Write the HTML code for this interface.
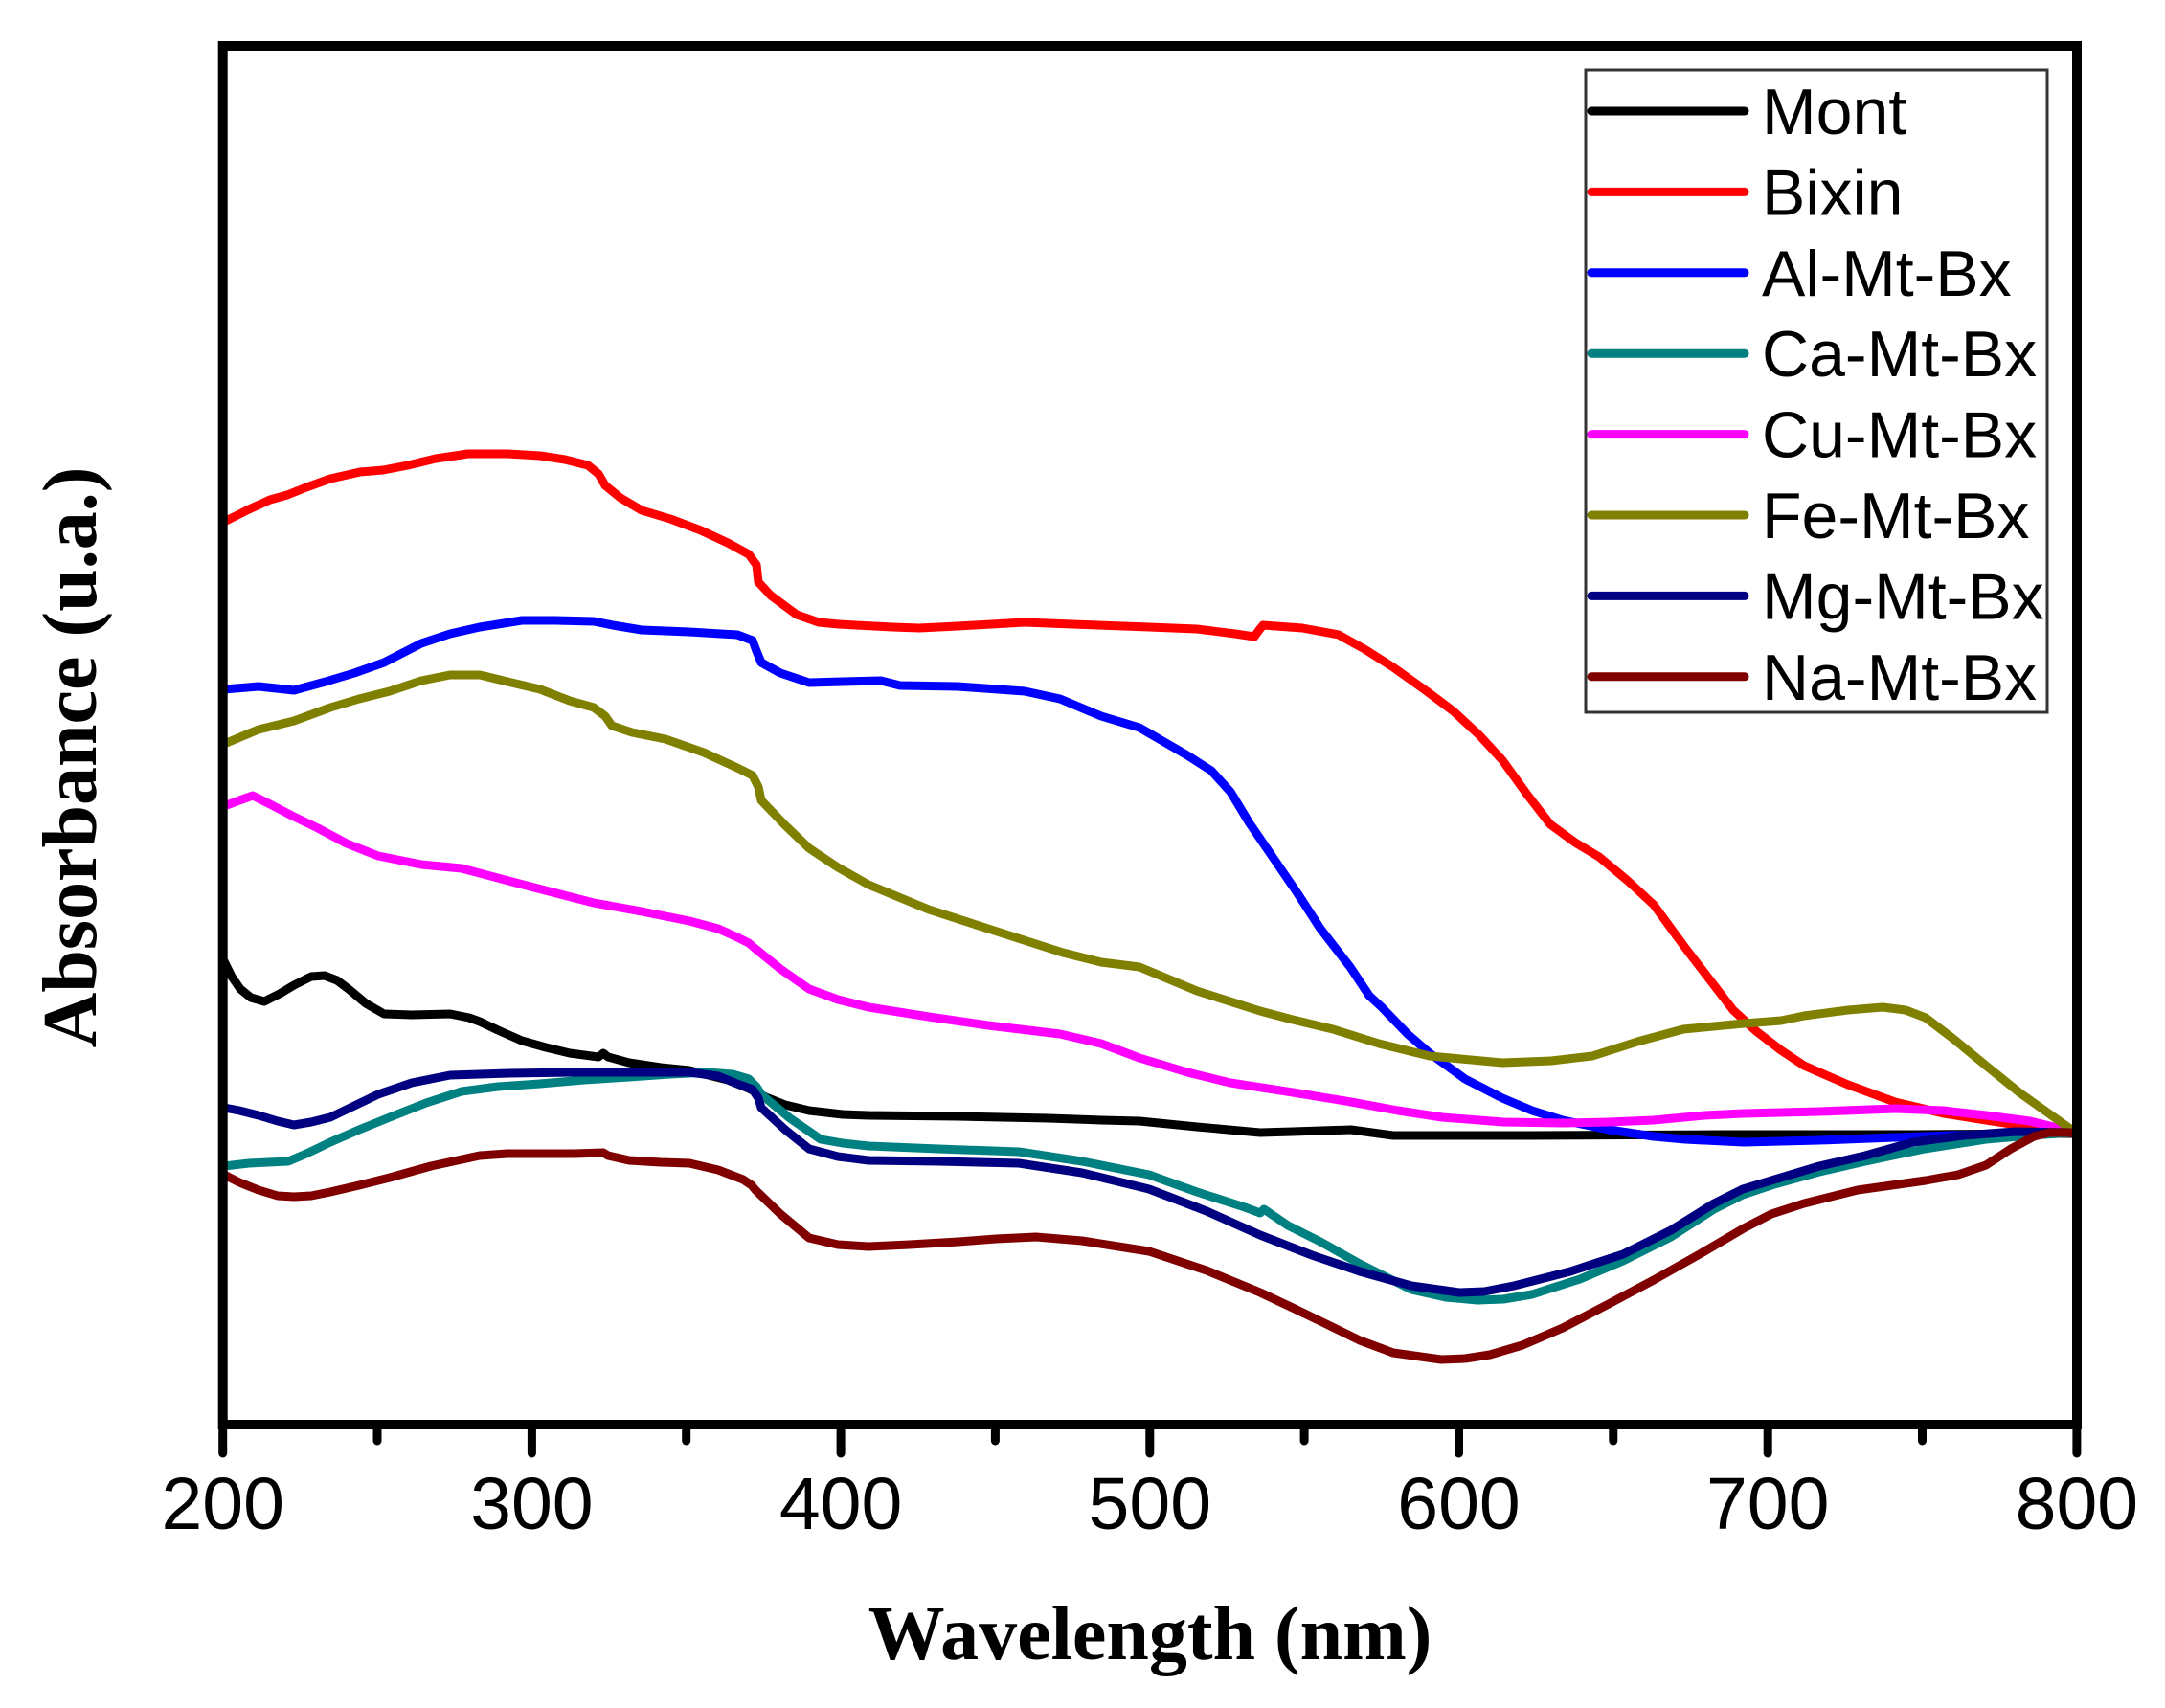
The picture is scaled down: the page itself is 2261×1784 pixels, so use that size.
<!DOCTYPE html>
<html>
<head>
<meta charset="utf-8">
<style>
  html, body { margin:0; padding:0; background:#fff; }
  svg { display:block; }
</style>
</head>
<body>
<svg width="2261" height="1784" viewBox="0 0 2261 1784" xmlns="http://www.w3.org/2000/svg">
  <rect x="0" y="0" width="2261" height="1784" fill="#ffffff"/>

  <g fill="none" stroke-width="9" stroke-linejoin="round" stroke-linecap="round">
    <!-- Mont -->
    <polyline stroke="#000000" points="234,1004 242,1020 251,1033 262,1042 276,1046 292,1038 307,1029 325,1020 339,1019 352,1024 364,1033 382,1048 401,1059 430,1060 470,1059 490,1063 501,1067 520,1076 545,1087 570,1094 595,1100 625,1104 630,1100 635,1104 657,1110 690,1115 720,1118 760,1128 782,1137 800,1146 820,1154 845,1160 880,1164 907,1165 1000,1166 1095,1168 1150,1170 1190,1171 1250,1177 1316,1183 1350,1182 1411,1180 1440,1184 1455,1186 1600,1186 1800,1185 2000,1185 2165,1184"/>
    <!-- Bixin -->
    <polyline stroke="#ff0000" points="234,545 260,532 282,522 300,517 320,509 345,500 376,493 400,491 426,486 455,479 489,474 530,474 564,476 590,480 614,486 625,495 632,507 648,520 670,533 700,542 732,554 760,567 782,579 790,590 792,608 805,622 832,642 855,650 876,652 932,655 960,656 1000,654 1070,650 1120,652 1200,655 1250,657 1290,662 1310,665 1315,658 1319,653 1360,656 1398,663 1425,678 1455,697 1490,722 1518,743 1545,768 1569,794 1595,830 1619,861 1645,880 1670,895 1700,920 1727,945 1760,990 1790,1029 1810,1055 1834,1077 1860,1097 1884,1113 1930,1133 1979,1151 2030,1163 2074,1170 2120,1177 2165,1183"/>
    <!-- Al-Mt-Bx -->
    <polyline stroke="#0000ff" points="234,720 270,717 307,721 340,712 370,703 401,692 440,672 470,662 501,655 545,648 580,648 620,649 640,653 670,658 720,660 770,663 786,669 790,680 795,692 815,703 845,713 880,712 920,711 940,716 1000,717 1070,722 1107,730 1150,748 1190,760 1240,789 1265,805 1285,827 1305,860 1329,895 1355,933 1379,970 1410,1010 1430,1040 1443,1052 1470,1080 1493,1100 1530,1127 1569,1147 1600,1160 1632,1170 1680,1180 1727,1187 1760,1190 1821,1193 1900,1191 1979,1188 2070,1185 2165,1183"/>
    <!-- Ca-Mt-Bx -->
    <polyline stroke="#008080" points="234,1218 260,1215 301,1213 320,1205 345,1193 375,1180 407,1167 445,1152 482,1140 520,1135 564,1132 610,1128 657,1125 700,1122 739,1120 765,1122 782,1127 790,1135 795,1143 825,1168 857,1190 880,1194 907,1197 980,1200 1064,1203 1130,1213 1200,1227 1250,1245 1300,1261 1316,1267 1320,1263 1345,1280 1379,1297 1420,1320 1474,1347 1510,1355 1543,1358 1570,1357 1600,1352 1650,1336 1695,1317 1745,1292 1790,1263 1820,1248 1853,1237 1900,1224 1948,1213 2010,1200 2074,1190 2120,1186 2165,1183"/>
    <!-- Cu-Mt-Bx -->
    <polyline stroke="#ff00ff" points="234,842 250,836 264,831 282,840 305,852 332,865 362,881 395,894 440,903 482,907 550,925 620,943 670,952 720,962 750,970 770,979 782,985 789,991 815,1012 845,1033 875,1044 907,1052 970,1062 1032,1071 1107,1080 1150,1090 1190,1105 1240,1120 1285,1131 1350,1141 1411,1151 1460,1160 1506,1167 1570,1172 1632,1173 1680,1172 1727,1170 1780,1165 1821,1163 1900,1161 1979,1158 2030,1160 2074,1165 2120,1171 2165,1182"/>
    <!-- Fe-Mt-Bx -->
    <polyline stroke="#808000" points="234,777 270,762 307,753 345,739 375,730 407,722 440,711 470,705 501,705 530,712 564,720 595,732 620,739 632,748 639,758 660,765 695,772 735,786 770,802 786,810 792,822 795,836 820,862 845,886 875,906 907,924 970,950 1032,970 1110,995 1150,1005 1190,1010 1250,1035 1316,1056 1350,1065 1392,1075 1440,1090 1493,1103 1569,1110 1620,1108 1663,1103 1710,1088 1758,1075 1821,1069 1860,1066 1884,1061 1930,1055 1966,1052 1990,1055 2011,1063 2040,1085 2074,1113 2110,1142 2165,1181"/>
    <!-- Mg-Mt-Bx -->
    <polyline stroke="#000080" points="234,1157 250,1160 270,1165 290,1171 307,1175 325,1172 345,1167 370,1155 395,1143 430,1131 470,1123 532,1121 600,1120 650,1120 720,1120 750,1124 770,1132 786,1138 792,1147 795,1157 820,1180 845,1200 875,1208 907,1212 980,1213 1064,1215 1130,1225 1200,1242 1260,1265 1316,1290 1370,1311 1420,1328 1474,1343 1524,1350 1550,1349 1581,1343 1640,1328 1695,1310 1745,1285 1790,1257 1820,1242 1853,1232 1900,1218 1948,1207 1998,1193 2050,1186 2105,1182 2165,1183"/>
    <!-- Na-Mt-Bx -->
    <polyline stroke="#800000" points="234,1227 250,1235 270,1243 290,1249 307,1250 325,1249 345,1245 375,1238 407,1230 450,1218 501,1207 530,1205 564,1205 600,1205 630,1204 635,1207 657,1212 690,1214 720,1215 750,1222 776,1232 785,1238 789,1243 815,1268 845,1293 875,1300 907,1302 950,1300 1001,1297 1040,1294 1082,1292 1130,1296 1200,1307 1260,1327 1316,1350 1350,1366 1379,1380 1420,1400 1455,1413 1505,1420 1530,1419 1556,1415 1590,1405 1632,1387 1680,1362 1727,1337 1775,1310 1821,1283 1850,1268 1884,1257 1940,1243 2011,1233 2045,1227 2074,1217 2100,1200 2124,1187 2140,1183 2165,1183"/>
  </g>

  <!-- Axes frame -->
  <rect x="232.7" y="48" width="1936.3" height="1440" fill="none" stroke="#000" stroke-width="10"/>

  <!-- Ticks -->
  <g stroke="#000" stroke-width="9" stroke-linecap="round">
    <line x1="232.7" y1="1490" x2="232.7" y2="1518"/>
    <line x1="555.4" y1="1490" x2="555.4" y2="1518"/>
    <line x1="878.1" y1="1490" x2="878.1" y2="1518"/>
    <line x1="1200.8" y1="1490" x2="1200.8" y2="1518"/>
    <line x1="1523.5" y1="1490" x2="1523.5" y2="1518"/>
    <line x1="1846.2" y1="1490" x2="1846.2" y2="1518"/>
    <line x1="2168.9" y1="1490" x2="2168.9" y2="1518"/>
    <line x1="394.0" y1="1490" x2="394.0" y2="1505"/>
    <line x1="716.7" y1="1490" x2="716.7" y2="1505"/>
    <line x1="1039.4" y1="1490" x2="1039.4" y2="1505"/>
    <line x1="1362.1" y1="1490" x2="1362.1" y2="1505"/>
    <line x1="1684.8" y1="1490" x2="1684.8" y2="1505"/>
    <line x1="2007.5" y1="1490" x2="2007.5" y2="1505"/>
  </g>

  <!-- Tick labels -->
  <g font-family="'Liberation Sans', Arial, sans-serif" font-size="77" fill="#000" text-anchor="middle">
    <text x="232.7" y="1597">200</text>
    <text x="555.4" y="1597">300</text>
    <text x="878.1" y="1597">400</text>
    <text x="1200.8" y="1597">500</text>
    <text x="1523.5" y="1597">600</text>
    <text x="1846.2" y="1597">700</text>
    <text x="2168.9" y="1597">800</text>
  </g>

  <!-- Axis titles -->
  <text x="1201" y="1733" font-family="'Liberation Serif', 'Times New Roman', serif" font-weight="bold" font-size="80" text-anchor="middle" fill="#000">Wavelength (nm)</text>
  <text transform="translate(100,791) rotate(-90)" font-family="'Liberation Serif', 'Times New Roman', serif" font-weight="bold" font-size="80" text-anchor="middle" fill="#000">Absorbance (u.a.)</text>

  <!-- Legend -->
  <rect x="1656" y="73" width="482" height="671" fill="#ffffff" stroke="#333" stroke-width="3"/>
  <g stroke-width="9" stroke-linecap="round">
    <line x1="1662" y1="116" x2="1822" y2="116" stroke="#000000"/>
    <line x1="1662" y1="200.4" x2="1822" y2="200.4" stroke="#ff0000"/>
    <line x1="1662" y1="284.8" x2="1822" y2="284.8" stroke="#0000ff"/>
    <line x1="1662" y1="369.2" x2="1822" y2="369.2" stroke="#008080"/>
    <line x1="1662" y1="453.6" x2="1822" y2="453.6" stroke="#ff00ff"/>
    <line x1="1662" y1="538" x2="1822" y2="538" stroke="#808000"/>
    <line x1="1662" y1="622.4" x2="1822" y2="622.4" stroke="#000080"/>
    <line x1="1662" y1="706.8" x2="1822" y2="706.8" stroke="#800000"/>
  </g>
  <g font-family="'Liberation Sans', Arial, sans-serif" font-size="68" fill="#000">
    <text x="1840" y="140">Mont</text>
    <text x="1840" y="224.4">Bixin</text>
    <text x="1840" y="308.8">Al-Mt-Bx</text>
    <text x="1840" y="393.2">Ca-Mt-Bx</text>
    <text x="1840" y="477.6">Cu-Mt-Bx</text>
    <text x="1840" y="562">Fe-Mt-Bx</text>
    <text x="1840" y="646.4">Mg-Mt-Bx</text>
    <text x="1840" y="730.8">Na-Mt-Bx</text>
  </g>
</svg>
</body>
</html>
